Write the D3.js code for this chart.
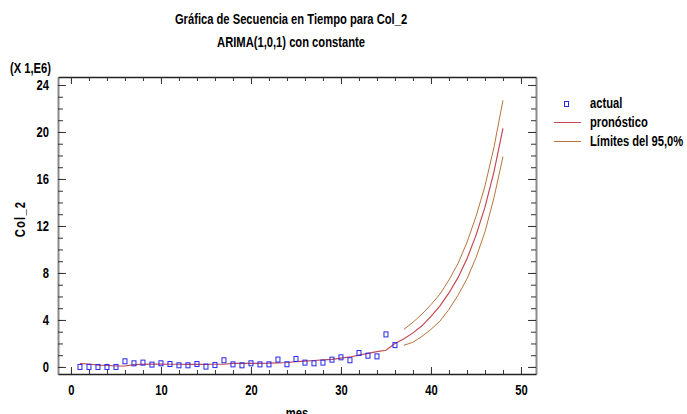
<!DOCTYPE html>
<html>
<head>
<meta charset="utf-8">
<script src="https://cdn.jsdelivr.net/npm/d3@7"></script>
<style>
  body { margin: 0; background: #fff; }
  svg { display: block; font-family: "Liberation Sans", Arial, sans-serif; font-weight: bold; }
  .tick text { font-family: "Liberation Sans", Arial, sans-serif; font-weight: bold; font-size: 14px; fill: #000; }
</style>
</head>
<body>
<svg width="687" height="414"></svg>
<script>
// **** data (values in millions) ****

var months = d3.range(1, 37);
var actual = [0.0, 0.0, 0.0, 0.0, 0.0, 0.48, 0.31, 0.37, 0.2, 0.31, 0.25, 0.14,
              0.14, 0.25, 0.03, 0.16, 0.57, 0.22, 0.14, 0.31, 0.22, 0.22, 0.63, 0.23,
              0.68, 0.37, 0.31, 0.37, 0.62, 0.82, 0.57, 1.19, 0.96, 0.9, 2.77, 1.86];

// fitted values for months 1-36, forecast for 37-48
var fcMonths = d3.range(1, 49);
var forecast = [0.28, 0.25, 0.15, 0.14, 0.08, 0.08, 0.2, 0.22, 0.24, 0.24, 0.23, 0.23,
                0.22, 0.22, 0.22, 0.23, 0.23, 0.3, 0.3, 0.31, 0.31, 0.32, 0.35, 0.38,
                0.45, 0.5, 0.55, 0.6, 0.65, 0.75, 0.85, 1.0, 1.15, 1.3, 1.42, 2.0,
                2.4, 2.9, 3.5, 4.3, 5.2, 6.3, 7.6, 9.2, 11.2, 13.6, 16.6, 20.3];

var limMonths = d3.range(37, 49);
var upper = [3.2, 3.8, 4.5, 5.3, 6.2, 7.4, 8.8, 10.6, 12.8, 15.4, 18.7, 22.7];
var lower = [1.85, 2.1, 2.6, 3.2, 3.9, 4.9, 6.1, 7.5, 9.3, 11.5, 14.4, 17.9];

var xMajor = [0, 10, 20, 30, 40, 50];
var yMajor = [0, 4, 8, 12, 16, 20, 24];

var legendLabels = ['actual', 'pronóstico', 'Límites del 95,0%'];

// **** scales ****

var svg = d3.select('svg');
var mLeft = 58, mRight = 536, mTop = 77, mBottom = 374;
var squeeze = 0.8;   // narrow bold lettering

var xScale = d3.scaleLinear().domain([-1.44, 51.67]).range([mLeft, mRight]);
var yScale = d3.scaleLinear().domain([-0.6, 24.68]).range([mBottom, mTop]);

var lineColor = '#c24a52';
var limColor = '#b8743c';
var pointColor = '#2626f0';

// **** axes ****

function styleAxis(g, color, width) {
    g.select('.domain').attr('stroke', color).attr('stroke-width', width);
    g.selectAll('.tick line').attr('stroke', '#333');
}

function cleanMajor(g) {
    g.select('.domain').remove();
    g.selectAll('.tick line').attr('stroke', '#333');
}

// left
svg.append('g').attr('transform', 'translate(' + mLeft + ',0)')
    .call(d3.axisLeft(yScale).tickValues(d3.range(0, 25, 1)).tickSize(-5).tickFormat('').tickSizeOuter(0))
    .call(styleAxis, '#8a8a8a', 2);
svg.append('g').attr('transform', 'translate(' + mLeft + ',0)')
    .call(d3.axisLeft(yScale).tickValues(yMajor).tickSize(-8).tickPadding(9).tickSizeOuter(0))
    .call(cleanMajor)
    .call(g => g.selectAll('.tick text')
        .attr('x', -9 / squeeze)
        .attr('transform', 'scale(' + squeeze + ',1)'));

// right
svg.append('g').attr('transform', 'translate(' + mRight + ',0)')
    .call(d3.axisRight(yScale).tickValues(d3.range(0, 25, 1)).tickSize(-5).tickFormat('').tickSizeOuter(0))
    .call(styleAxis, '#8a8a8a', 2);
svg.append('g').attr('transform', 'translate(' + mRight + ',0)')
    .call(d3.axisRight(yScale).tickValues(yMajor).tickSize(-8).tickFormat('').tickSizeOuter(0))
    .call(cleanMajor);

// bottom
svg.append('g').attr('transform', 'translate(0,' + mBottom + ')')
    .call(d3.axisBottom(xScale).tickValues(d3.range(0, 52, 2)).tickSize(-4).tickFormat('').tickSizeOuter(0))
    .call(styleAxis, '#222', 1.5);
svg.append('g').attr('transform', 'translate(0,' + mBottom + ')')
    .call(d3.axisBottom(xScale).tickValues(xMajor).tickSize(-7).tickPadding(11).tickSizeOuter(0))
    .call(cleanMajor)
    .call(g => g.selectAll('.tick text').attr('transform', 'scale(' + squeeze + ',1)'));

// top
svg.append('g').attr('transform', 'translate(0,' + mTop + ')')
    .call(d3.axisTop(xScale).tickValues(d3.range(0, 52, 2)).tickSize(-4).tickFormat('').tickSizeOuter(0))
    .call(styleAxis, '#222', 1.5);
svg.append('g').attr('transform', 'translate(0,' + mTop + ')')
    .call(d3.axisTop(xScale).tickValues(xMajor).tickSize(-7).tickFormat('').tickSizeOuter(0))
    .call(cleanMajor);

// **** series ****

var line = d3.line()
    .x(function(d) { return xScale(d[0]); })
    .y(function(d) { return yScale(d[1]); });

svg.append('path')
    .attr('d', line(d3.zip(limMonths, upper)))
    .attr('fill', 'none').attr('stroke', limColor).attr('stroke-width', 1);
svg.append('path')
    .attr('d', line(d3.zip(limMonths, lower)))
    .attr('fill', 'none').attr('stroke', limColor).attr('stroke-width', 1);
svg.append('path')
    .attr('d', line(d3.zip(fcMonths, forecast)))
    .attr('fill', 'none').attr('stroke', lineColor).attr('stroke-width', 1.2);

svg.selectAll('rect.pt')
    .data(d3.zip(months, actual))
    .enter()
    .append('rect')
    .attr('class', 'pt')
    .attr('x', function(d) { return xScale(d[0]) - 2; })
    .attr('y', function(d) { return yScale(d[1]) - 2.5; })
    .attr('width', 4)
    .attr('height', 5)
    .attr('fill', 'none')
    .attr('stroke', pointColor)
    .attr('stroke-width', 1);

// **** titles and labels ****

function label(x, y, txt, anchor, rot) {
    return svg.append('text')
        .attr('transform', 'translate(' + x + ',' + y + ')' + (rot ? ' rotate(' + rot + ')' : '') +
              ' scale(' + squeeze + ',1)')
        .attr('text-anchor', anchor || 'start')
        .attr('font-size', 14)
        .text(txt);
}

label(291, 24, 'Gráfica de Secuencia en Tiempo para Col_2', 'middle');
label(291, 47, 'ARIMA(1,0,1) con constante', 'middle');
label(10, 73, '(X 1,E6)');
label(25, 219, 'Col_2', 'middle', -90).attr('letter-spacing', 1.5);
label(297, 418, 'mes', 'middle');

// **** legend ****

svg.append('rect')
    .attr('x', 564.5).attr('y', 101.5).attr('width', 4).attr('height', 5)
    .attr('fill', 'none').attr('stroke', pointColor);
svg.append('line')
    .attr('x1', 554).attr('x2', 581).attr('y1', 122.5).attr('y2', 122.5)
    .attr('stroke', lineColor);
svg.append('line')
    .attr('x1', 554).attr('x2', 581).attr('y1', 141.5).attr('y2', 141.5)
    .attr('stroke', limColor);

legendLabels.forEach(function(d, i) {
    label(590, 108 + i * 19, d);
});
</script>
</body>
</html>
